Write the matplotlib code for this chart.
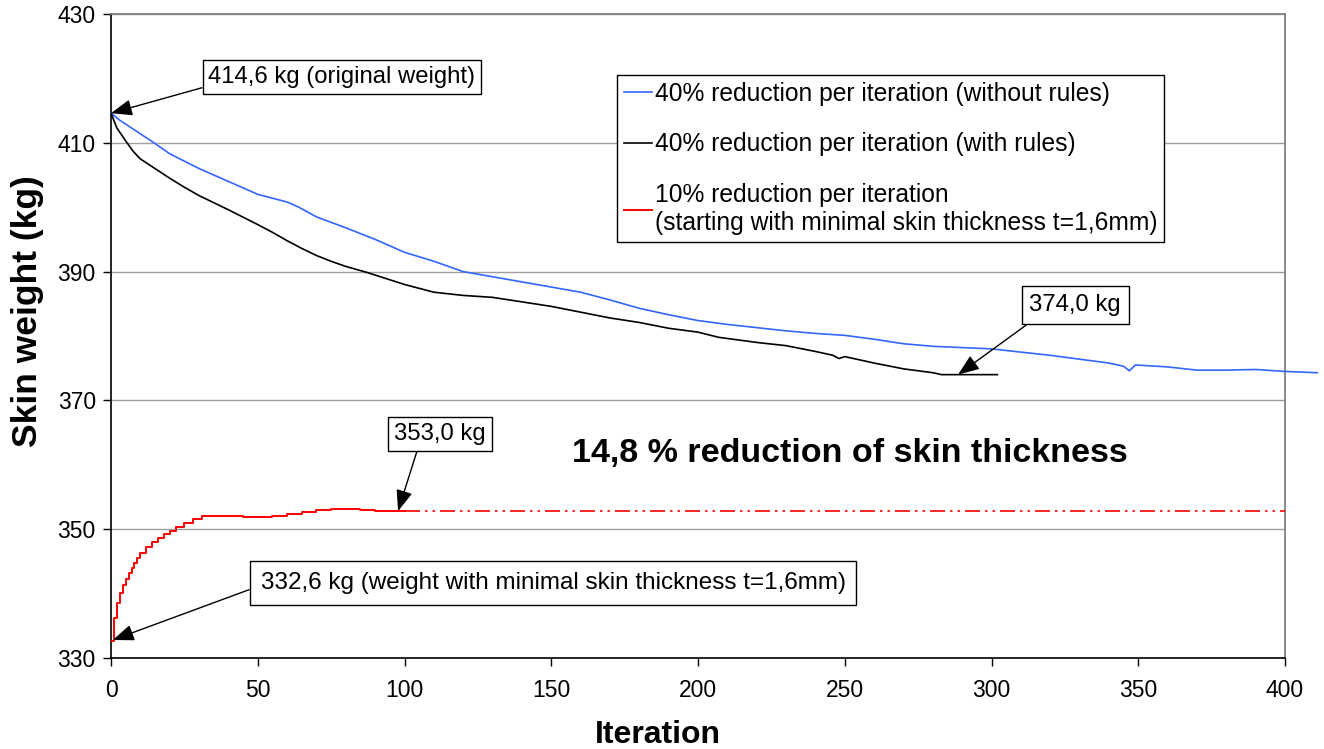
import numpy as np
import matplotlib.pyplot as plt

plt.rcParams['font.family'] = ['Liberation Sans', 'DejaVu Sans']

# 40% reduction per iteration (without rules)
blue_x = [0, 3, 8, 14, 20, 30, 40, 45, 50, 60, 64, 70, 80, 90, 100, 110, 120, 130, 140,
          150, 160, 170, 180, 190, 200, 210, 220, 230, 240, 250, 260, 270, 280, 290, 300,
          310, 320, 330, 340, 345, 347, 349, 360, 370, 380, 390, 400, 411]
blue_y = [414.6, 413.5, 412.0, 410.2, 408.3, 406.0, 404.0, 403.0, 402.0, 400.8, 400.0, 398.5,
          396.8, 395.0, 393.0, 391.6, 390.0, 389.2, 388.4, 387.6, 386.8, 385.6, 384.3, 383.3,
          382.4, 381.8, 381.3, 380.8, 380.4, 380.1, 379.5, 378.8, 378.4, 378.2, 378.0, 377.5,
          377.0, 376.4, 375.8, 375.3, 374.6, 375.5, 375.2, 374.7, 374.7, 374.8, 374.5, 374.3]

# 40% reduction per iteration (with rules)
black_x = [0, 2, 5, 7.5, 10, 15, 20, 25, 30, 40, 50, 55, 60, 65, 70, 75, 80, 87, 100, 110,
           120, 130, 140, 150, 160, 170, 180, 190, 200, 207, 220, 230, 240, 246, 248, 250,
           260, 270, 280, 283, 302]
black_y = [414.6, 412.3, 410.3, 408.7, 407.5, 406.0, 404.5, 403.1, 401.8, 399.6, 397.3, 396.1,
           394.8, 393.6, 392.5, 391.6, 390.8, 389.9, 388.0, 386.8, 386.3, 386.0, 385.3, 384.6,
           383.7, 382.8, 382.1, 381.2, 380.6, 379.8, 379.0, 378.5, 377.6, 377.0, 376.5, 376.8,
           375.8, 374.9, 374.3, 374.0, 374.0]

# 10% reduction per iteration (starting with minimal skin thickness)
red_x = [0, 1, 2, 3, 4, 5, 6, 7, 8, 9, 10, 12, 14, 16, 18, 20, 22, 25, 28, 31, 35, 40, 45,
         50, 55, 60, 65, 70, 75, 80, 85, 90, 95, 100]
red_y = [332.6, 336.2, 338.5, 340.1, 341.3, 342.3, 343.2, 344.0, 344.8, 345.5, 346.3, 347.3,
         348.0, 348.6, 349.2, 349.7, 350.3, 351.0, 351.6, 352.0, 352.1, 352.0, 351.9, 351.9,
         352.0, 352.3, 352.7, 353.0, 353.1, 353.1, 353.0, 352.9, 352.8, 352.8]
red_ext_x = [100, 400]
red_ext_y = [352.9, 352.9]

labels = ["40% reduction per iteration (without rules)",
          "40% reduction per iteration (with rules)",
          "10% reduction per iteration\n(starting with minimal skin thickness t=1,6mm)"]

fig = plt.figure(figsize=(13.24, 7.49), dpi=100)
ax = fig.add_axes([111/1324, 1 - 658/749, 1174/1324, 644/749])

ax.plot(blue_x, blue_y, color='#3366ff', lw=1.2, label=labels[0], clip_on=False, zorder=3)
ax.plot(black_x, black_y, color='black', lw=1.2, label=labels[1], zorder=3)
ax.plot(red_x, red_y, color='red', lw=1.4, drawstyle='steps-post', label=labels[2], zorder=3)
ax.plot(red_ext_x, red_ext_y, color='red', lw=1.2, dashes=(9, 3, 1.5, 3, 1.5, 3), zorder=3)

ax.set_xlim(0, 400)
ax.set_ylim(330, 430)
ax.set_xticks(np.arange(0, 401, 50))
ax.set_yticks(np.arange(330, 431, 20))
ax.yaxis.grid(True, color='#a0a0a0', lw=1)
ax.set_axisbelow(True)
ax.tick_params(direction='out', length=6, width=1, labelsize=16.5)
ax.tick_params(axis='x', pad=9)
ax.tick_params(axis='y', pad=5)
for s in ['top', 'right']:
    ax.spines[s].set_color('#808080')
    ax.spines[s].set_linewidth(1.3)
for s in ['left', 'bottom']:
    ax.spines[s].set_linewidth(1.2)

ax.set_xlabel("Iteration", fontsize=23, fontweight='bold', va='baseline')
ax.set_ylabel("Skin weight (kg)", fontsize=25.5, fontweight='bold', va='center', ha='center')
ax.xaxis.set_label_coords(0.466, -0.132)
ax.yaxis.set_label_coords(-0.0707, 0.539)

leg = ax.legend(loc='upper left', bbox_to_anchor=(617/1324, 1 - 75/749),
                bbox_transform=fig.transFigure, fontsize=17.7, frameon=True, fancybox=False,
                handlelength=1.15, handletextpad=0.12, labelspacing=1.08, borderpad=0.28,
                borderaxespad=0)
leg.get_frame().set_edgecolor('black')
leg.get_frame().set_linewidth(1)
leg.get_frame().set_alpha(1)

box = dict(boxstyle='square,pad=0.25', fc='white', ec='black', lw=1)
arrow = dict(arrowstyle='-|>,head_length=0.65,head_width=0.25', color='black', lw=1,
             mutation_scale=20, shrinkA=0, shrinkB=0)

ax.annotate("414,6 kg (original weight)", xy=(0, 414.6), xytext=(78.7, 420.2),
            fontsize=17.2, ha='center', va='center', bbox=box,
            arrowprops=dict(arrow, relpos=(0, 0.1)), annotation_clip=False, zorder=5)
ax.annotate("374,0 kg", xy=(288.6, 374.0), xytext=(328.5, 384.8),
            fontsize=17.2, ha='center', va='center', bbox=dict(box, boxstyle='square,pad=0.32'),
            arrowprops=dict(arrow, relpos=(0.1, 0)), zorder=5)
ax.annotate("353,0 kg", xy=(97.8, 352.8), xytext=(112.1, 364.8),
            fontsize=17.2, ha='center', va='center', bbox=box,
            arrowprops=dict(arrow, relpos=(0.27, 0)), zorder=5)
ax.annotate("332,6 kg (weight with minimal skin thickness t=1,6mm)", xy=(0.6, 332.8),
            xytext=(150.6, 341.6), fontsize=17.5, ha='center', va='center',
            bbox=dict(box, boxstyle='square,pad=0.45'),
            arrowprops=dict(arrow, relpos=(0, 0.4)), annotation_clip=False, zorder=5)

ax.text(251.8, 361.8, "14,8 % reduction of skin thickness", fontsize=24.5, fontweight='bold',
        ha='center', va='center')

fig.savefig("out.png", dpi=100)
